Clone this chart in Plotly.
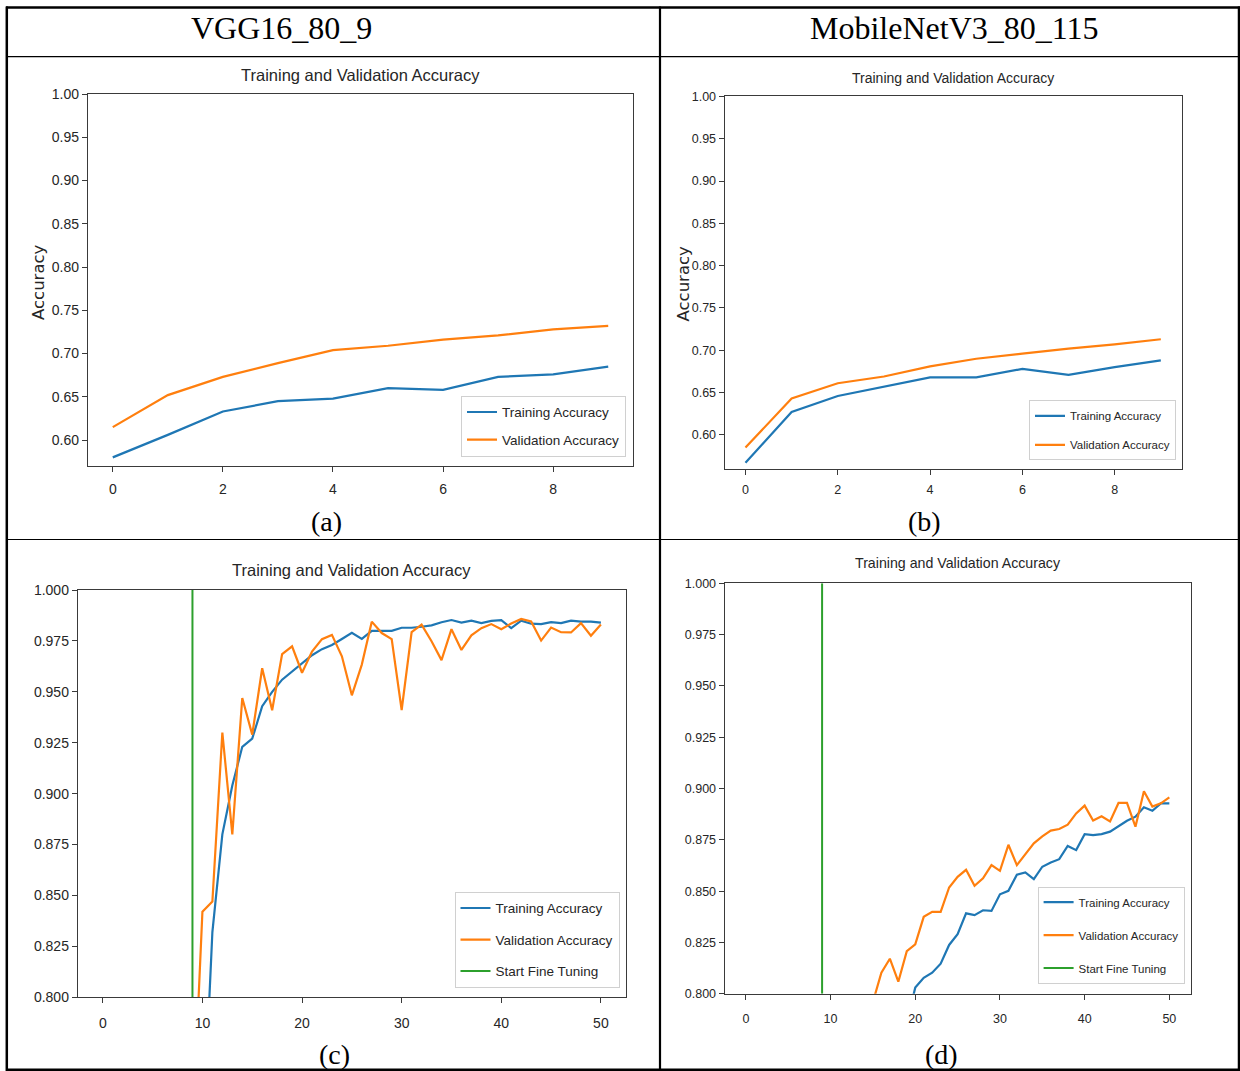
import plotly.graph_objects as go

# ---------------- data ----------------
epochs_initial = list(range(10))
epochs_all = list(range(51))

vgg_train_initial = [0.580, 0.606, 0.633, 0.645, 0.648, 0.660, 0.658, 0.673, 0.676, 0.685]
vgg_val_initial = [0.615, 0.652, 0.673, 0.689, 0.704, 0.709, 0.716, 0.721, 0.728, 0.732]

mob_train_initial = [0.567, 0.627, 0.646, 0.657, 0.668, 0.668, 0.678, 0.671, 0.680, 0.688]
mob_val_initial = [0.585, 0.643, 0.661, 0.669, 0.681, 0.690, 0.696, 0.702, 0.707, 0.713]

vgg_train_fine = [0.725, 0.832, 0.880, 0.904, 0.923, 0.927, 0.943, 0.950, 0.956, 0.960,
                  0.964, 0.968, 0.971, 0.973, 0.976, 0.979, 0.976, 0.980, 0.980, 0.980,
                  0.9815, 0.9815, 0.982, 0.9827, 0.9842, 0.9853, 0.984, 0.985, 0.9838, 0.9849,
                  0.9852, 0.9813, 0.985, 0.9835, 0.9833, 0.9843, 0.9838, 0.985, 0.9845, 0.9845,
                  0.984]
vgg_val_fine = [0.842, 0.847, 0.930, 0.880, 0.947, 0.929, 0.9616, 0.941, 0.9686, 0.9724,
                0.9594, 0.9698, 0.9759, 0.978, 0.9675, 0.9483, 0.9634, 0.9845, 0.9789, 0.9759,
                0.9411, 0.9794, 0.983, 0.9749, 0.9656, 0.9808, 0.9706, 0.9778, 0.9813, 0.9833,
                0.9808, 0.9836, 0.9858, 0.9846, 0.9752, 0.9816, 0.9793, 0.9792, 0.9838, 0.9776,
                0.9831]

mob_train_fine = [0.700, 0.716, 0.728, 0.739, 0.748, 0.756, 0.764, 0.771, 0.779, 0.786,
                  0.803, 0.8078, 0.8103, 0.8147, 0.8238, 0.829, 0.8392, 0.8383, 0.8407, 0.8404,
                  0.8485, 0.8502, 0.858, 0.8591, 0.8559, 0.8619, 0.864, 0.8656, 0.872, 0.870,
                  0.8778, 0.8773, 0.8778, 0.879, 0.8816, 0.8843, 0.8863, 0.8909, 0.8892, 0.8928,
                  0.8928]
mob_val_fine = [0.742, 0.756, 0.768, 0.778, 0.787, 0.796, 0.8103, 0.8171, 0.8059, 0.8208,
                0.8241, 0.8375, 0.8399, 0.8399, 0.8518, 0.857, 0.8604, 0.8526, 0.8563, 0.8627,
                0.8599, 0.8726, 0.8627, 0.8681, 0.8733, 0.8767, 0.8795, 0.8803, 0.8824, 0.8879,
                0.8917, 0.8844, 0.8865, 0.884, 0.893, 0.893, 0.8814, 0.8987, 0.8912, 0.8928,
                0.8957]

fine_tune_start = 9
fine_ylim = [0.8, 1.0]

col_headers = ["VGG16_80_9", "MobileNetV3_80_115"]
captions = ["(a)", "(b)", "(c)", "(d)"]
plot_title = "Training and Validation Accuracy"
y_label = "Accuracy"
series_names = ["Training Accuracy", "Validation Accuracy", "Start Fine Tuning"]

# ---------------- layout helpers ----------------
W, H = 1240, 1071


def px(x):
    return x / W


def py(y):
    return 1 - y / H


BLUE, ORANGE, GREEN = "#1f77b4", "#ff7f0e", "#2ca02c"
SANS = "Liberation Sans, Arial, sans-serif"
SERIF = "Liberation Serif, Times New Roman, serif"
TXT = "#262626"

fig = go.Figure()

panels = [
    dict(ax="", x=epochs_initial, tr=vgg_train_initial, va=vgg_val_initial, fine=False,
         box=(88, 94, 633, 465.6), xr=[-0.45, 9.45], yr=[0.5705, 1.0],
         leg=(626, 456.7), title=(360.5, 75), ylab=(38.5, 282.5),
         fs_tick=14, fs_title=16.5, fs_leg=13.5, gap=7, xstand=5),
    dict(ax="2", x=epochs_initial, tr=mob_train_initial, va=mob_val_initial, fine=False,
         box=(724.7, 96.4, 1181.6, 469), xr=[-0.45, 9.45], yr=[0.5597, 1.0],
         leg=(1176, 460.4), title=(953, 78), ylab=(683.5, 284),
         fs_tick=12.5, fs_title=14, fs_leg=11.5, gap=10, xstand=4),
    dict(ax="3", x=epochs_all, tr=vgg_train_initial + vgg_train_fine,
         va=vgg_val_initial + vgg_val_fine, fine=True,
         box=(77.9, 590.1, 625.8, 997.2), xr=[-2.5, 52.5], yr=fine_ylim,
         leg=(619.5, 987.7), title=(351.4, 569.8), ylab=None,
         fs_tick=14, fs_title=16.5, fs_leg=13.5, gap=11, xstand=8),
    dict(ax="4", x=epochs_all, tr=mob_train_initial + mob_train_fine,
         va=mob_val_initial + mob_val_fine, fine=True,
         box=(724.7, 583.3, 1190.5, 993.8), xr=[-2.5, 52.5], yr=fine_ylim,
         leg=(1184.6, 983.6), title=(957.8, 563), ylab=None,
         fs_tick=12.5, fs_title=14.2, fs_leg=11.5, gap=14, xstand=8),
]

annotations = []
axis_common = dict(showline=True, mirror=True, linecolor="#3a3a3a", linewidth=1.3,
                   ticks="outside", ticklen=5, tickwidth=1.2, tickcolor="#3a3a3a",
                   showgrid=False, zeroline=False, automargin=False)

for p in panels:
    ax = p["ax"]
    xa = "x" + ax
    ya = "y" + ax
    legname = "legend" + ax
    fig.add_trace(go.Scatter(x=p["x"], y=p["tr"], mode="lines", name=series_names[0],
                             line=dict(color=BLUE, width=2.2), xaxis=xa, yaxis=ya,
                             legend=legname, legendgroup="tr" + ax))
    fig.add_trace(go.Scatter(x=p["x"], y=p["va"], mode="lines", name=series_names[1],
                             line=dict(color=ORANGE, width=2.2), xaxis=xa, yaxis=ya,
                             legend=legname, legendgroup="va" + ax))
    if p["fine"]:
        fig.add_trace(go.Scatter(x=[fine_tune_start, fine_tune_start], y=fine_ylim,
                                 mode="lines", name=series_names[2],
                                 line=dict(color=GREEN, width=2), xaxis=xa, yaxis=ya,
                                 legend=legname, legendgroup="ft" + ax))
    l, t, r, b = p["box"]
    tickfont = dict(family=SANS, size=p["fs_tick"], color=TXT)
    if p["fine"]:
        xticks = dict(tick0=0, dtick=10)
        yticks = dict(tick0=0, dtick=0.025, tickformat=".3f")
    else:
        xticks = dict(tick0=0, dtick=2)
        yticks = dict(tick0=0, dtick=0.05, tickformat=".2f")
    fig.layout["xaxis" + ax] = dict(domain=[px(l), px(r)], range=p["xr"], anchor=ya,
                                    tickfont=tickfont, ticklabelstandoff=p["xstand"],
                                    **xticks, **axis_common)
    fig.layout["yaxis" + ax] = dict(domain=[py(b), py(t)], range=p["yr"], anchor=xa,
                                    tickfont=tickfont, **yticks, **axis_common)
    lx, lb = p["leg"]
    fig.layout[legname] = dict(x=px(lx), y=py(lb), xanchor="right", yanchor="bottom",
                               xref="paper", yref="paper", tracegroupgap=p["gap"],
                               itemwidth=30,
                               bgcolor="rgba(255,255,255,0.85)", bordercolor="#d0d0d0",
                               borderwidth=1,
                               font=dict(family=SANS, size=p["fs_leg"], color=TXT))
    tx, ty = p["title"]
    annotations.append(dict(text=plot_title, x=px(tx), y=py(ty), xref="paper", yref="paper",
                            showarrow=False, xanchor="center", yanchor="middle",
                            font=dict(family=SANS, size=p["fs_title"], color=TXT)))
    if p["ylab"]:
        yx, yy = p["ylab"]
        annotations.append(dict(text=y_label, x=px(yx), y=py(yy), xref="paper",
                                yref="paper", showarrow=False, textangle=-90,
                                xanchor="center", yanchor="middle",
                                font=dict(family="DejaVu Sans", size=16.5, color=TXT)))

# table headers and captions
for txt, cx in zip(col_headers, [281, 954]):
    annotations.append(dict(text=txt, x=px(cx), y=py(28), xref="paper", yref="paper",
                            showarrow=False, xanchor="center", yanchor="middle",
                            font=dict(family=SERIF, size=32, color="black")))
for txt, (cx, cy) in zip(captions, [(326, 521), (924.5, 521), (334.6, 1054), (941, 1054)]):
    annotations.append(dict(text=txt, x=px(cx), y=py(cy), xref="paper", yref="paper",
                            showarrow=False, xanchor="center", yanchor="middle",
                            font=dict(family=SERIF, size=28, color="black")))

# table lines
shapes = []


def hline(x0, x1, y, w):
    shapes.append(dict(type="line", xref="paper", yref="paper", x0=px(x0), x1=px(x1),
                       y0=py(y), y1=py(y), line=dict(color="black", width=w)))


def vline(x, y0, y1, w):
    shapes.append(dict(type="line", xref="paper", yref="paper", x0=px(x), x1=px(x),
                       y0=py(y0), y1=py(y1), line=dict(color="black", width=w)))


hline(6, 1240, 7.5, 2.5)      # top border
hline(6, 1240, 1069.8, 2.5)   # bottom border
vline(6.8, 6.5, 1071, 2.5)    # left border
vline(1239, 6.5, 1071, 2.5)   # right border
vline(660, 6.5, 1071, 2.2)    # middle divider
hline(6, 1240, 56.7, 1.2)     # header line
hline(6, 1240, 539.5, 1.2)    # row divider

fig.update_layout(width=W, height=H, autosize=False,
                  margin=dict(l=0, r=0, t=0, b=0, pad=0, autoexpand=False),
                  paper_bgcolor="white", plot_bgcolor="white",
                  annotations=annotations, shapes=shapes, showlegend=True)

fig.write_html("out.html", config={"displayModeBar": False},
               post_script="document.body.style.margin='0';document.body.style.overflow='hidden';")
